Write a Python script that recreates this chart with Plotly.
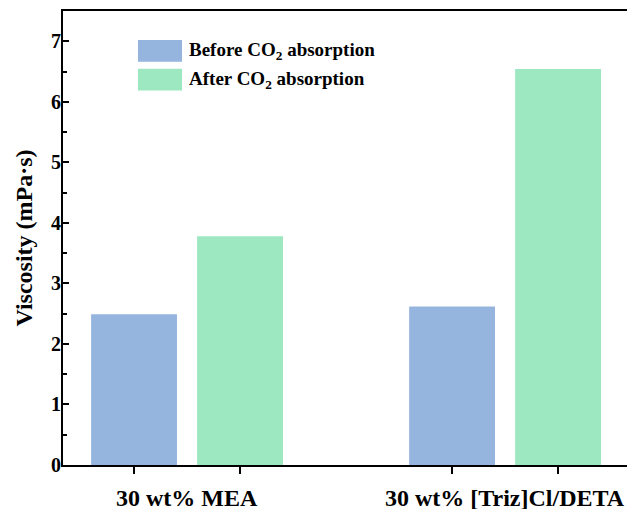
import plotly.graph_objects as go

groups = ["30 wt% MEA", "30 wt% [Triz]Cl/DETA"]
series_names = ["Before CO<sub>2</sub> absorption", "After CO<sub>2</sub> absorption"]
before = [2.49, 2.62]
after = [3.78, 6.54]
colors = ["#95B5DF", "#9DE8C0"]
group_pos = [1.5, 4.5]
offsets = [-0.5, 0.5]

FONT = "Liberation Serif"
fig = go.Figure()
for vals, name, col, off in zip([before, after], series_names, colors, offsets):
    fig.add_trace(go.Bar(
        x=[g + off for g in group_pos], y=vals, name=name,
        marker=dict(color=col, line=dict(width=0)), width=0.81,
        showlegend=False,
    ))

tickvals = [g + o for g in group_pos for o in offsets]

fig.update_layout(
    width=627, height=509,
    margin=dict(l=63, r=0, t=11, b=44),
    plot_bgcolor="white", paper_bgcolor="white",
    font=dict(family=FONT, color="black"),
    xaxis=dict(range=[0.33, 5.65], tickvals=tickvals, ticktext=[""] * 4, automargin=False,
               ticks="outside", ticklen=7, tickwidth=1.5, tickcolor="black",
               showline=True, linecolor="black", linewidth=2, mirror=True,
               showgrid=False, zeroline=False),
    yaxis=dict(range=[0, 7.5], dtick=1, tickmode="linear", tick0=0, automargin=False,
               ticks="inside", ticklen=6, tickwidth=1.5, tickcolor="black",
               minor=dict(dtick=0.5, ticks="inside", ticklen=4, tickwidth=1.5, tickcolor="black"),
               showline=True, linecolor="black", linewidth=2, mirror=False,
               showgrid=False, zeroline=False, ticklabelstandoff=-4,
               tickfont=dict(family=FONT, size=20, color="black", weight="bold"),
               title=dict(text="<b>Viscosity (mPa·s)</b>", font=dict(family=FONT, size=24), standoff=12)),
)

for g, label in zip(group_pos, groups):
    fig.add_annotation(x=g, xref="x", y=0, yref="paper", yshift=-33, text="<b>" + label + "</b>",
                       showarrow=False, font=dict(family=FONT, size=24, color="black"), yanchor="middle")

# custom legend
leg_y = [0.912, 0.849]
for yy, name, col in zip(leg_y, series_names, colors):
    fig.add_shape(type="rect", xref="paper", yref="paper",
                  x0=(138 - 63) / 564, x1=(182 - 63) / 564, y0=yy - 0.024, y1=yy + 0.024,
                  fillcolor=col, line=dict(width=0))
    fig.add_annotation(x=(187 - 63) / 564, xref="paper", y=yy, yref="paper", text="<b>" + name + "</b>",
                       showarrow=False, xanchor="left", yanchor="middle",
                       font=dict(family=FONT, size=19, color="black"))

fig.write_html("out.html", config={"displayModeBar": False},
               post_script="document.body.style.margin='0';document.body.style.overflow='hidden';")
